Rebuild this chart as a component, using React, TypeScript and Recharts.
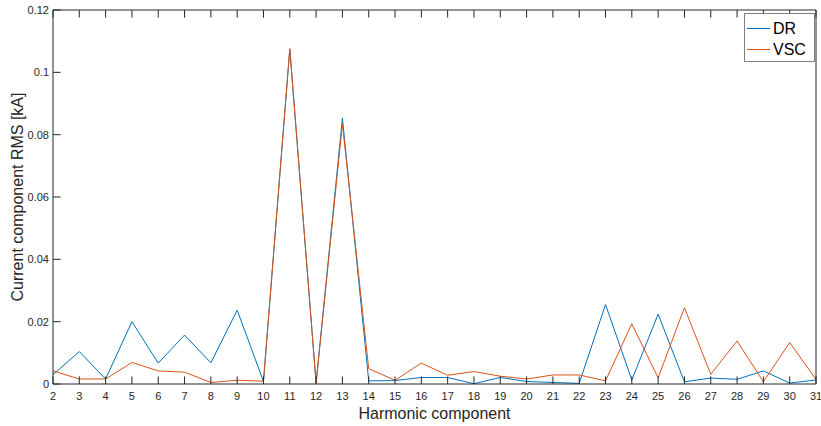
import { Line, LineChart, XAxis, YAxis } from 'recharts'

const harmonics = [2, 3, 4, 5, 6, 7, 8, 9, 10, 11, 12, 13, 14, 15, 16, 17, 18, 19, 20, 21, 22, 23, 24, 25, 26, 27, 28, 29, 30, 31]
const drValues = [
  0.003, 0.0104, 0.0016, 0.02, 0.0067, 0.0157, 0.0068, 0.0237, 0.0008, 0.1074,
  0.0003, 0.0853, 0.001, 0.0011, 0.0021, 0.0021, 0.0001, 0.0021, 0.0008, 0.0005,
  0.0002, 0.0255, 0.0013, 0.0224, 0.0007, 0.0019, 0.0015, 0.0042, 0.0003, 0.0013,
]
const vscValues = [
  0.0042, 0.0016, 0.0016, 0.0069, 0.0042, 0.0038, 0.0005, 0.0012, 0.0009, 0.1076,
  0.0003, 0.0835, 0.0049, 0.0012, 0.0067, 0.0028, 0.004, 0.0025, 0.0016, 0.0029,
  0.0029, 0.001, 0.0193, 0.002, 0.0245, 0.0031, 0.0138, 0.0007, 0.0133, 0.0015,
]
const yTicks = [0, 0.02, 0.04, 0.06, 0.08, 0.1, 0.12]
const seriesList = [
  { key: 'dr', name: 'DR', color: '#0072BD' },
  { key: 'vsc', name: 'VSC', color: '#D95319' },
]

const data = harmonics.map((h, i) => ({ h, dr: drValues[i], vsc: vscValues[i] }))

const AXIS = '#262626'
const FONT = '"Liberation Sans", Arial, Helvetica, sans-serif'
const TICK = 7.6

const BottomTick = ({ x, y, payload }: any) => (
  <g>
    <line x1={x} y1={y} x2={x} y2={y - TICK} stroke={AXIS} strokeWidth={1} />
    <text x={x} y={y + 16} textAnchor="middle" fontSize={11} fill={AXIS} fontFamily={FONT}>
      {payload.value}
    </text>
  </g>
)

const TopTick = ({ x, y }: any) => (
  <line x1={x} y1={y} x2={x} y2={y + TICK} stroke={AXIS} strokeWidth={1} />
)

const LeftTick = ({ x, y, payload }: any) => (
  <g>
    <line x1={x} y1={y} x2={x + TICK} y2={y} stroke={AXIS} strokeWidth={1} />
    <text x={x - 4} y={y + 4} textAnchor="end" fontSize={11} fill={AXIS} fontFamily={FONT}>
      {String(Number(payload.value.toFixed(2)))}
    </text>
  </g>
)

const RightTick = ({ x, y }: any) => (
  <line x1={x} y1={y} x2={x - TICK} y2={y} stroke={AXIS} strokeWidth={1} />
)

const YLabel = ({ viewBox }: any) => {
  const cy = viewBox.y + viewBox.height / 2
  return (
    <text x={23} y={cy} transform={`rotate(-90, 23, ${cy})`} textAnchor="middle"
      fontSize={16} fill={AXIS} fontFamily={FONT}>
      Current component RMS [kA]
    </text>
  )
}

// legend box sits on top of the chart, top-right corner like matlab's default
const LegendBox = () => (
  <div style={{
    position: 'absolute', left: 744, top: 13,
    width: 71, height: 49, boxSizing: 'border-box', border: '1px solid #7f7f7f', background: '#fff',
    fontFamily: FONT, fontSize: 16, color: '#000', paddingTop: 4,
  }}>
    {seriesList.map((s) => (
      <div key={s.name} style={{ display: 'flex', alignItems: 'center', height: 21 }}>
        <div style={{ width: 23, height: 1, background: s.color, marginLeft: 2, marginRight: 3 }} />
        <span>{s.name}</span>
      </div>
    ))}
  </div>
)

export default function App() {
  return (
    <div style={{ position: 'relative', width: 821, height: 426, background: '#fff' }}>
      <style>{'body{margin:0}'}</style>
      <LineChart width={821} height={426} data={data} margin={{ top: 0, right: 0, bottom: 0, left: 0 }}>
        <XAxis
          dataKey="h" type="number" domain={[2, 31]} ticks={harmonics} interval={0}
          height={42} tickSize={0} tickMargin={0} tickLine={false}
          axisLine={{ stroke: AXIS }} tick={<BottomTick />}
          label={{ value: 'Harmonic component', position: 'insideBottom', offset: 7, fontSize: 16, fill: AXIS, fontFamily: FONT }}
        />
        <XAxis
          xAxisId="top" orientation="top" dataKey="h" type="number" domain={[2, 31]} ticks={harmonics}
          interval={0} height={10} tickSize={0} tickMargin={0} tickLine={false}
          axisLine={{ stroke: AXIS }} tick={<TopTick />}
        />
        <YAxis
          type="number" domain={[0, 0.12]} ticks={yTicks} interval={0} width={53}
          tickSize={0} tickMargin={0} tickLine={false} axisLine={{ stroke: AXIS }}
          tick={<LeftTick />} label={<YLabel />}
        />
        <YAxis
          yAxisId="right" orientation="right" type="number" domain={[0, 0.12]} ticks={yTicks}
          interval={0} width={5} tickSize={0} tickMargin={0} tickLine={false}
          axisLine={{ stroke: AXIS }} tick={<RightTick />}
        />
        {seriesList.map((s) => (
          <Line key={s.key} dataKey={s.key} name={s.name} stroke={s.color} strokeWidth={1}
            dot={false} isAnimationActive={false} type="linear" />
        ))}
      </LineChart>
      <LegendBox />
    </div>
  )
}
